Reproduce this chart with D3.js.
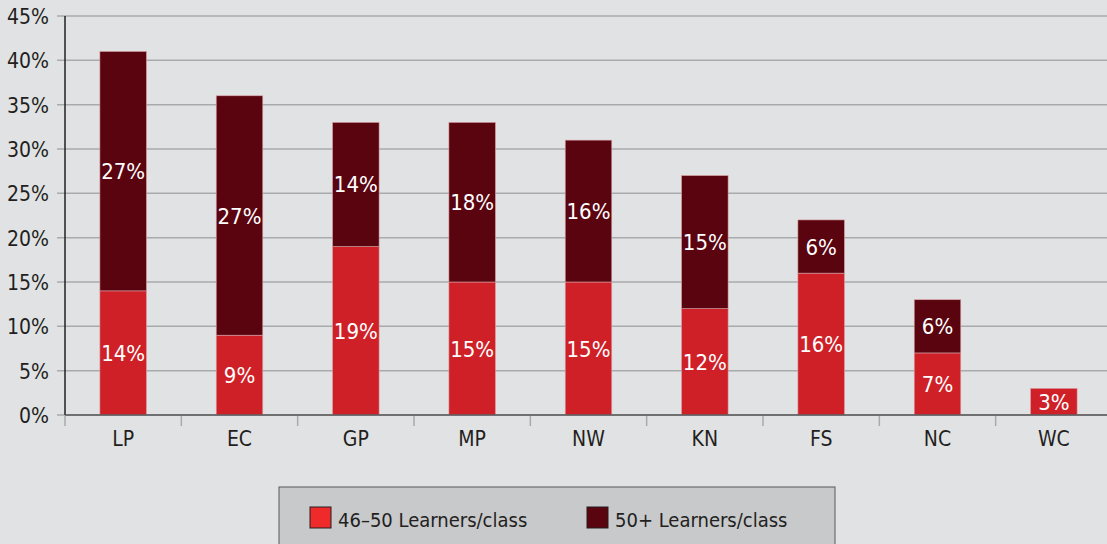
<!DOCTYPE html>
<html>
<head>
<meta charset="utf-8">
<script src="https://cdn.jsdelivr.net/npm/d3@7"></script>
<style>
  body { margin: 0; background: #e1e2e4; }
  svg { display: block; font-family: "Liberation Sans Narrow", "DejaVu Sans Condensed", "Liberation Sans", sans-serif; font-stretch: condensed; }
</style>
</head>
<body>
<div id="chart"></div>
<script>
var provinces = ["LP", "EC", "GP", "MP", "NW", "KN", "FS", "NC", "WC"];
var learners46to50 = [14, 9, 19, 15, 15, 12, 16, 7, 3];
var learners50plus = [27, 27, 14, 18, 16, 15, 6, 6, 0];
var yTicks = [0, 5, 10, 15, 20, 25, 30, 35, 40, 45];
var seriesNames = ["46\u201350 Learners/class", "50+ Learners/class"];

var w = 1107, h = 544;
var plotLeft = 65, plotRight = 1112, plotTop = 16, plotBottom = 415;

var svg = d3.select("#chart")
    .append("svg")
    .attr("width", w)
    .attr("height", h);

svg.append("rect").attr("width", w).attr("height", h).attr("fill", "#e1e2e4");

var x = d3.scaleBand().domain(provinces).range([plotLeft, plotRight]).paddingInner(0.6).paddingOuter(0.3);
var y = d3.scaleLinear().domain([0, 45]).range([plotBottom, plotTop]);

// gridlines
svg.selectAll(".grid")
    .data(yTicks)
    .enter()
    .append("line")
    .attr("x1", plotLeft - 8)
    .attr("x2", w)
    .attr("y1", function(d) { return y(d); })
    .attr("y2", function(d) { return y(d); })
    .style("stroke", "#a9aaac")
    .style("stroke-width", 1.5);

// y labels
svg.selectAll(".ylab")
    .data(yTicks)
    .enter()
    .append("text")
    .attr("x", 49)
    .attr("y", function(d) { return y(d) + 8; })
    .attr("text-anchor", "end")
    .style("font-size", "21px")
    .style("fill", "#231f20")
    .text(function(d) { return d + "%"; });

var rows = provinces.map(function(p, i) {
  return { p: p, a: learners46to50[i], b: learners50plus[i] };
});

var colors = ["#cf2027", "#5a040f"];

var stack = d3.stack().keys(["a", "b"])(rows);

var groups = svg.selectAll(".series")
    .data(stack)
    .enter()
    .append("g")
    .attr("fill", function(d, i) { return colors[i]; });

groups.selectAll("rect")
    .data(function(d) { return d.filter(function(s) { return s[1] > s[0]; }); })
    .enter()
    .append("rect")
    .attr("x", function(d) { return x(d.data.p); })
    .attr("width", x.bandwidth())
    .attr("y", function(d) { return y(d[1]); })
    .attr("height", function(d) { return y(d[0]) - y(d[1]); })
    .style("stroke", "#d9a0a4")
    .style("stroke-width", 0.6);

groups.selectAll("text")
    .data(function(d) { return d.filter(function(s) { return s[1] > s[0]; }); })
    .enter()
    .append("text")
    .attr("x", function(d) { return x(d.data.p) + x.bandwidth() / 2; })
    .attr("y", function(d) { return (y(d[0]) + y(d[1])) / 2 + 8; })
    .attr("text-anchor", "middle")
    .style("font-size", "22px")
    .style("fill", "#ffffff")
    .text(function(d) { return (d[1] - d[0]) + "%"; });

// axes lines
svg.append("line")
    .attr("x1", plotLeft).attr("x2", plotLeft)
    .attr("y1", plotTop).attr("y2", plotBottom)
    .style("stroke", "#231f20").style("stroke-width", 1.5);
svg.append("line")
    .attr("x1", plotLeft).attr("x2", w)
    .attr("y1", plotBottom).attr("y2", plotBottom)
    .style("stroke", "#58595b").style("stroke-width", 1.5);

// x ticks between categories
var step = x.step();
svg.selectAll(".xtick")
    .data(d3.range(provinces.length + 1))
    .enter()
    .append("line")
    .attr("x1", function(i) { return plotLeft + i * step; })
    .attr("x2", function(i) { return plotLeft + i * step; })
    .attr("y1", plotBottom + 1)
    .attr("y2", plotBottom + 11)
    .style("stroke", "#a9aaac")
    .style("stroke-width", 1.5);

svg.selectAll(".xlab")
    .data(provinces)
    .enter()
    .append("text")
    .attr("x", function(d) { return x(d) + x.bandwidth() / 2; })
    .attr("y", 446)
    .attr("text-anchor", "middle")
    .style("font-size", "21px")
    .style("fill", "#231f20")
    .text(function(d) { return d; });

// legend
svg.append("rect")
    .attr("x", 279).attr("y", 487)
    .attr("width", 556).attr("height", 70)
    .attr("fill", "#c8c9cb")
    .style("stroke", "#58595b").style("stroke-width", 1);

var legendColors = ["#ee2a2a", "#5a040f"];
var legendX = [310, 587];
var lg = svg.selectAll(".leg")
    .data(seriesNames)
    .enter()
    .append("g");
lg.append("rect")
    .attr("x", function(d, i) { return legendX[i]; })
    .attr("y", 507)
    .attr("width", 21).attr("height", 21)
    .attr("fill", function(d, i) { return legendColors[i]; })
    .style("stroke", "#231f20").style("stroke-width", 1);
lg.append("text")
    .attr("x", function(d, i) { return legendX[i] + 28; })
    .attr("y", 527)
    .style("font-size", "20px")
    .style("fill", "#231f20")
    .text(function(d) { return d; });
</script>
</body>
</html>
